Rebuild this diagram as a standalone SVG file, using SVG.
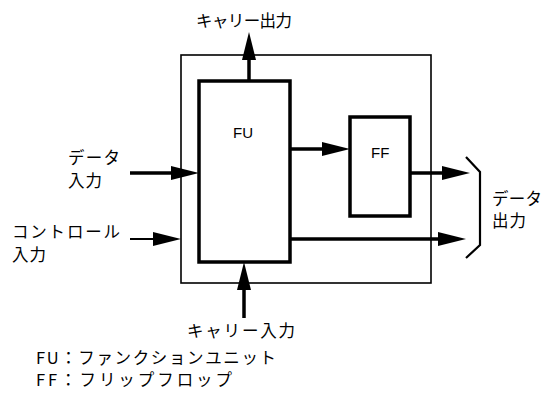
<svg xmlns="http://www.w3.org/2000/svg" width="545" height="394" viewBox="0 0 545 394">
<style>
.jp{font-family:"Noto Sans CJK JP","DejaVu Sans",sans-serif;font-size:16.5px;fill:#000}
.lb{font-family:"Liberation Sans","DejaVu Sans",sans-serif;font-size:15px;fill:#000}
.thin{fill:none;stroke:#000;stroke-width:1.6}
.thick{fill:#fff;stroke:#000;stroke-width:3.5}
.ar{stroke:#000;stroke-width:3.5;fill:none}
.ar2{stroke:#000;stroke-width:2.2;fill:none}
</style>
<defs>
<marker id="ah" markerUnits="userSpaceOnUse" markerWidth="28" markerHeight="14" refX="18" refY="7" orient="auto" viewBox="0 0 28 14">
<path d="M0,0 L28,7 L0,14 Z" fill="#000"/>
</marker>
</defs>
<rect width="545" height="394" fill="#fff"/>
<g id="outer"><rect class="thin" x="181" y="55" width="250" height="228"/></g>
<g id="fu"><rect class="thick" x="199" y="81" width="91" height="181"/><text class="lb" x="233" y="138">FU</text></g>
<g id="ff"><rect class="thick" x="350" y="117" width="60" height="99"/><text class="lb" x="371" y="158">FF</text></g>
<g id="connectors">
<line class="ar" x1="249" y1="81" x2="249" y2="42" marker-end="url(#ah)"/>
<line class="ar" x1="244" y1="318" x2="244" y2="272" marker-end="url(#ah)"/>
<line class="ar" x1="290" y1="149" x2="340" y2="149" marker-end="url(#ah)"/>
<line class="ar" x1="130" y1="173" x2="189" y2="173" marker-end="url(#ah)"/>
<line class="ar2" x1="130" y1="239" x2="171" y2="239" marker-end="url(#ah)"/>
<line class="ar" x1="410" y1="173" x2="460" y2="173" marker-end="url(#ah)"/>
<line class="ar" x1="290" y1="239" x2="456" y2="239" marker-end="url(#ah)"/>
<path d="M466,157 L480,172 L480,245 L466,258" fill="none" stroke="#000" stroke-width="2.2"/>
</g>
<g id="labels">
<text class="jp" x="196" y="27" textLength="96" lengthAdjust="spacing">キャリー出力</text>
<text class="jp" x="68" y="164" textLength="52" lengthAdjust="spacing">データ</text>
<text class="jp" x="68" y="187" textLength="34" lengthAdjust="spacing">入力</text>
<text class="jp" x="12" y="238" textLength="108" lengthAdjust="spacing">コントロール</text>
<text class="jp" x="12" y="261" textLength="34" lengthAdjust="spacing">入力</text>
<text class="jp" x="187" y="337" textLength="108" lengthAdjust="spacing">キャリー入力</text>
<text class="jp" x="492" y="205" textLength="50" lengthAdjust="spacing">データ</text>
<text class="jp" x="492" y="227" textLength="34" lengthAdjust="spacing">出力</text>
<text class="jp" x="36" y="364" textLength="240" lengthAdjust="spacing">FU：ファンクションユニット</text>
<text class="jp" x="36" y="386" textLength="196" lengthAdjust="spacing">FF：フリップフロップ</text>
</g>
</svg>
